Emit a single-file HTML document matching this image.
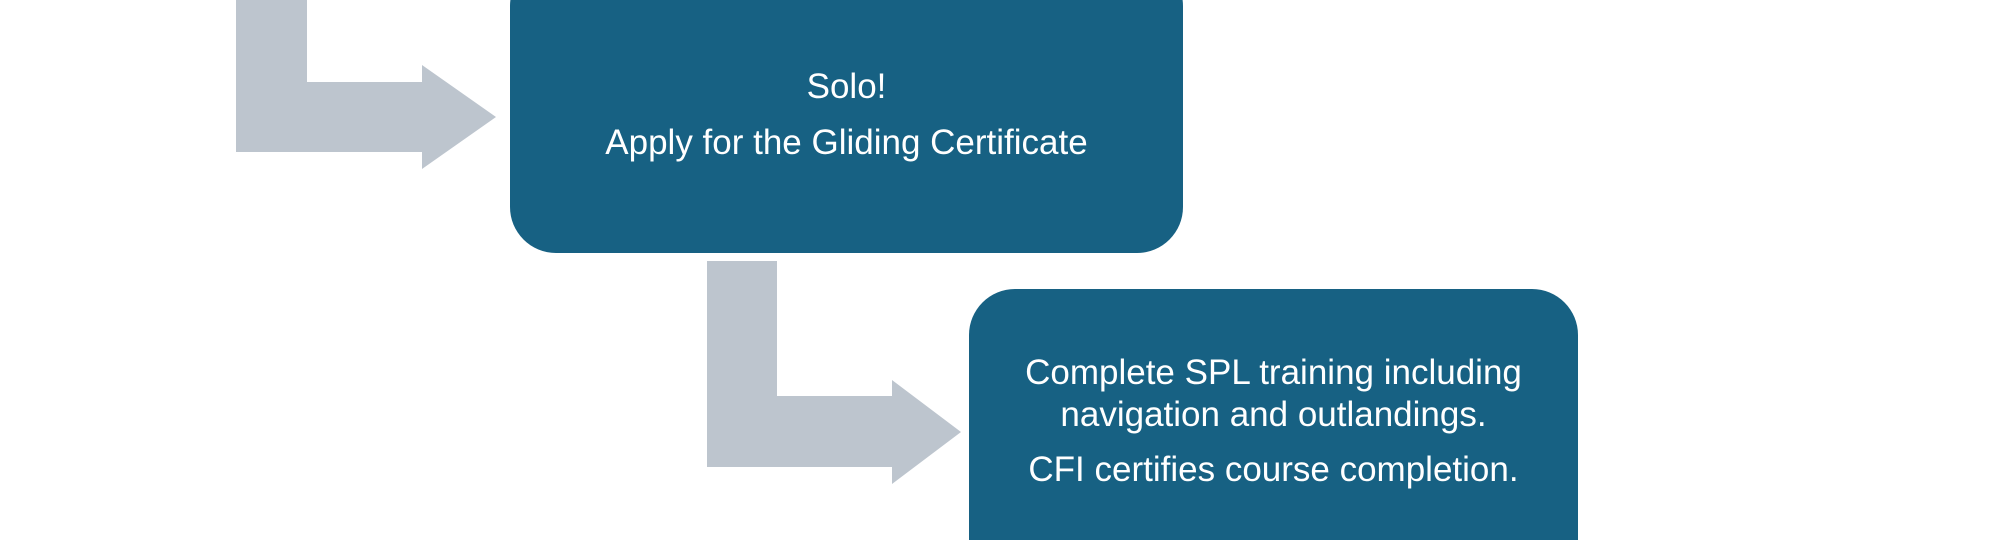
<!DOCTYPE html>
<html style="overflow:hidden;width:2004px;height:540px"><head><style>
html,body{margin:0;padding:0;background:#fff;}
body{width:2004px;height:540px;position:relative;overflow:hidden;font-family:"Liberation Sans",sans-serif;}
.wrap{position:absolute;left:0;top:0;width:2004px;height:540px;overflow:hidden;}
.box{position:absolute;background:#176183;border-radius:46px;color:#fff;text-align:center;}
.t{position:absolute;left:-50px;right:-50px;font-size:35px;line-height:40px;white-space:nowrap;}
</style></head><body>
<div class="wrap">
<svg width="2004" height="540" style="position:absolute;left:0;top:0">
<polygon fill="#bdc5ce" points="236,0 307,0 307,82 422,82 422,65 496,117 422,169 422,152 236,152"/>
<polygon fill="#bdc5ce" points="707,261 777,261 777,396 892,396 892,380 961,432 892,484 892,467 707,467"/>
</svg>
<div class="box" style="left:510px;top:-40px;width:673px;height:293px;">
<div class="t" style="top:107px">Solo!</div>
<div class="t" style="top:163px">Apply for the Gliding Certificate</div>
</div>
<div class="box" style="left:969px;top:289px;width:609px;height:251px;border-bottom-left-radius:0;border-bottom-right-radius:0;">
<div class="t" style="top:64px">Complete SPL training including</div>
<div class="t" style="top:106px">navigation and outlandings.</div>
<div class="t" style="top:161px">CFI certifies course completion.</div>
</div>
</div>
</body></html>
